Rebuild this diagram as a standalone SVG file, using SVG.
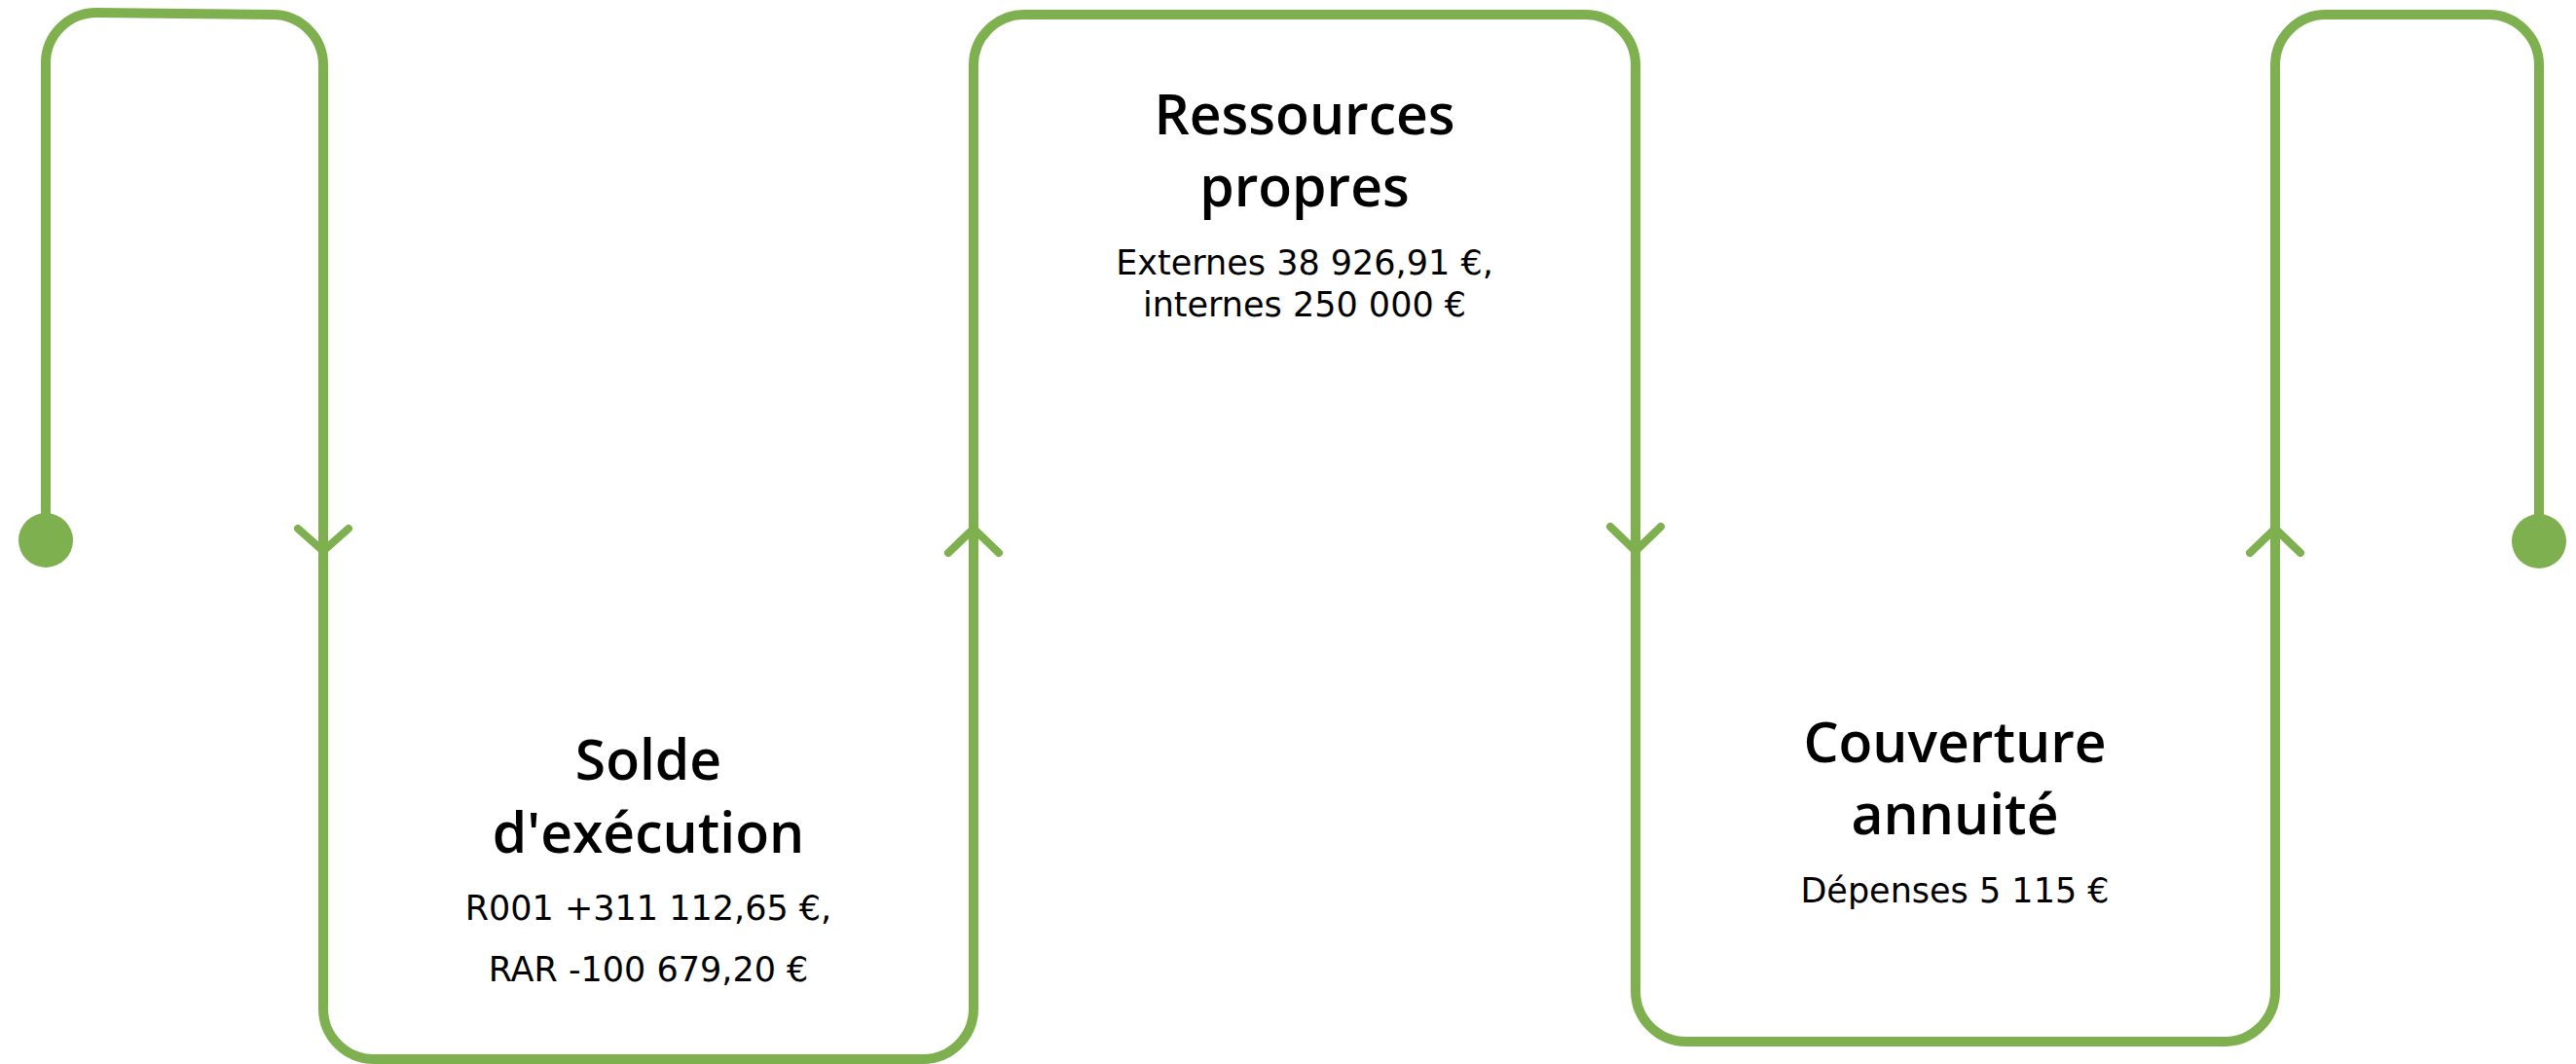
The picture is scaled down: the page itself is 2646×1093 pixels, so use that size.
<svg xmlns="http://www.w3.org/2000/svg" width="2646" height="1093" viewBox="0 0 2646 1093">
<style>
.flow{fill:none;stroke:#7fb04f;stroke-width:10;stroke-linejoin:round}
.arr{fill:none;stroke:#7fb04f;stroke-width:8;stroke-linecap:round;stroke-linejoin:round}
.dot{fill:#7fb04f}
.title{font-family:"Open Sans","DejaVu Sans",sans-serif;font-weight:600;font-size:57px;fill:#000;text-anchor:middle}
.sub{font-family:"DejaVu Sans","Noto Sans",sans-serif;font-size:35px;fill:#000;text-anchor:middle}
</style>
<rect width="2646" height="1093" fill="#fff"/>
<g id="connectors">
<path class="flow" d="M47,555 V66 A52,52 0 0 1 99,13 L280,15 A52,52 0 0 1 332,67 V1036 A52,52 0 0 0 384,1088 H948 A52,52 0 0 0 1000,1036 V67 A52,52 0 0 1 1052,15 H1628 A52,52 0 0 1 1680,67 V1018 A52,52 0 0 0 1732,1070 H2285 A52,52 0 0 0 2337,1018 V67 A52,52 0 0 1 2389,15 H2556 A52,52 0 0 1 2608,67 V556"/>
<circle class="dot" cx="47" cy="555" r="28"/>
<circle class="dot" cx="2608" cy="556" r="28"/>
<polyline class="arr" points="306,543 332,566 358,543"/>
<polyline class="arr" points="974,568 1000,543 1026,568"/>
<polyline class="arr" points="1654,541 1680,566 1706,541"/>
<polyline class="arr" points="2311,568 2337,543 2363,568"/>
</g>
<g id="node-solde">
<text class="title" x="666" y="801">Solde</text>
<text class="title" x="666" y="876">d'exécution</text>
<text class="sub" x="666" y="945">R001 +311 112,65 €,</text>
<text class="sub" x="666" y="1008">RAR -100 679,20 €</text>
</g>
<g id="node-ressources">
<text class="title" x="1340" y="138">Ressources</text>
<text class="title" x="1340" y="212">propres</text>
<text class="sub" x="1340" y="282">Externes 38 926,91 €,</text>
<text class="sub" x="1340" y="325">internes 250 000 €</text>
</g>
<g id="node-couverture">
<text class="title" x="2008" y="783">Couverture</text>
<text class="title" x="2008" y="857">annuité</text>
<text class="sub" x="2008" y="927">Dépenses 5 115 €</text>
</g>
</svg>
